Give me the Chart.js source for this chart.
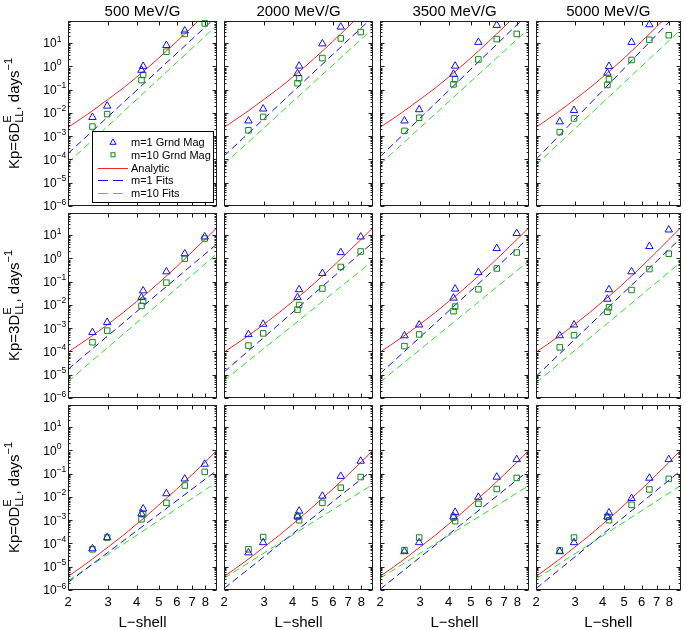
<!DOCTYPE html>
<html><head><meta charset="utf-8">
<script src="https://cdn.jsdelivr.net/npm/chart.js@4/dist/chart.umd.min.js"></script>
<style>
html,body{margin:0;padding:0;background:#fff;}
#wrap{position:relative;width:686px;height:630px;overflow:hidden;background:#fff;}
#wrap canvas{position:absolute;left:0;top:0;}
</style></head><body><div id="wrap"></div>
<script>
// ---------------- data ----------------
const L_MAG = [2.56, 2.97, 4.2, 4.27, 5.4, 6.5, 7.95];
const L_CURVE = [2, 2.5, 3, 3.5, 4, 4.5, 5, 6, 7, 8, 9];
const L_FIT = [2, 9];
const ENERGIES = ['500 MeV/G', '2000 MeV/G', '3500 MeV/G', '5000 MeV/G'];
const KP = ['6', '3', '0'];
const X_TICKS = [2, 3, 4, 5, 6, 7, 8];
const Y_DECADES = [-6, -5, -4, -3, -2, -1, 0, 1];
const LEGEND_LABELS = ['m=1 Grnd Mag', 'm=10 Grnd Mag', 'Analytic', 'm=1 Fits', 'm=10 Fits'];

// Kp = 6
const M1_MAG_KP6 = [
  [6.5e-3, 2.0e-2, 0.69, 1.02, 8.1, 34, null],
  [4.6e-3, 1.5e-2, 0.50, 1.05, 9.5, 50, null],
  [4.6e-3, 1.4e-2, 0.47, 1.05, 11, 59, null],
  [4.2e-3, 1.3e-2, 0.52, 1.02, 11, 63, null]
];
const M10_MAG_KP6 = [
  [2.6e-3, 8.9e-3, 0.26, 0.43, 4.3, 25, 71],
  [1.8e-3, 6.8e-3, 0.19, 0.31, 2.3, 16, 30],
  [1.7e-3, 6.2e-3, 0.17, 0.28, 2.0, 15, 25],
  [1.5e-3, 5.8e-3, 0.16, 0.28, 1.9, 14, 22]
];
const ANALYTIC_KP6 = [2.4e-3, 1.05e-2, 3.9e-2, 0.12, 0.35, 0.93, 2.3, 12, 50, 186, 600];
const M1_FIT_KP6 = [[1.8e-4, 145], [1.4e-4, 135], [1.3e-4, 195], [1.0e-4, 270]];
const M10_FIT_KP6 = [[7.2e-5, 59], [6.2e-5, 43], [6.2e-5, 43], [5.8e-5, 38]];

// Kp = 3
const M1_MAG_KP3 = [
  [6.6e-4, 1.8e-3, 2.1e-2, 4.1e-2, 0.27, 1.6, 8.5],
  [5.4e-4, 1.5e-3, 2.1e-2, 4.6e-2, 0.23, 1.8, 8.5],
  [4.8e-4, 1.4e-3, 2.0e-2, 4.9e-2, 0.25, 2.7, 12],
  [4.8e-4, 1.4e-3, 1.8e-2, 4.6e-2, 0.27, 3.3, 17]
];
const M10_MAG_KP3 = [
  [2.5e-4, 7.9e-4, 9.1e-3, 1.5e-2, 9.1e-2, 0.98, 7.2],
  [1.8e-4, 6.0e-4, 6.3e-3, 1.0e-2, 5.1e-2, 0.43, 2.0],
  [1.7e-4, 5.4e-4, 5.4e-3, 8.5e-3, 4.7e-2, 0.37, 1.8],
  [1.5e-4, 5.0e-4, 5.1e-3, 7.9e-3, 4.4e-2, 0.35, 1.6]
];
const ANALYTIC_KP3 = [9.3e-5, 4.1e-4, 1.5e-3, 4.8e-3, 1.4e-2, 3.6e-2, 8.9e-2, 0.45, 1.9, 6.8, 21];
const M1_FIT_KP3 = [[1.7e-5, 4.2], [1.3e-5, 4.9], [1.1e-5, 7.9], [8.5e-6, 7.4]];
const M10_FIT_KP3 = [[5.1e-6, 1.6], [5.6e-6, 0.79], [4.8e-6, 0.79], [4.5e-6, 0.68]];

// Kp = 0
const M1_MAG_KP0 = [
  [6.0e-5, 1.8e-4, 1.9e-3, 3.1e-3, 1.4e-2, 6.0e-2, 0.26],
  [4.0e-5, 1.1e-4, 1.5e-3, 2.5e-3, 1.1e-2, 7.8e-2, 0.35],
  [4.5e-5, 1.1e-4, 1.4e-3, 2.2e-3, 9.8e-3, 7.2e-2, 0.41],
  [4.5e-5, 1.1e-4, 1.4e-3, 2.1e-3, 8.7e-3, 6.5e-2, 0.41]
];
const M10_MAG_KP0 = [
  [5.6e-5, 1.8e-4, 1.1e-3, 1.8e-3, 5.6e-3, 3.1e-2, 0.12],
  [5.6e-5, 1.9e-4, 1.4e-3, 1.0e-3, 5.6e-3, 2.5e-2, 7.2e-2],
  [5.2e-5, 1.8e-4, 1.3e-3, 9.1e-4, 5.1e-3, 2.2e-2, 6.6e-2],
  [5.0e-5, 1.8e-4, 1.4e-3, 1.0e-3, 4.6e-3, 2.1e-2, 6.0e-2]
];
const ANALYTIC_KP0 = [3.8e-6, 1.8e-5, 7.1e-5, 2.3e-4, 6.8e-4, 1.8e-3, 4.5e-3, 2.2e-2, 9.1e-2, 0.32, 1.02];
const M1_FIT_KP0 = [[2.1e-6, 0.14], [1.15e-6, 0.15], [1.07e-6, 0.14], [1.15e-6, 0.135]];
const M10_FIT_KP0 = [[2.5e-6, 4.4e-2], [3.2e-6, 3.5e-2], [3.2e-6, 3.1e-2], [3.0e-6, 3.1e-2]];

const MAG1 = [M1_MAG_KP6, M1_MAG_KP3, M1_MAG_KP0];
const MAG10 = [M10_MAG_KP6, M10_MAG_KP3, M10_MAG_KP0];
const ANALYTIC = [ANALYTIC_KP6, ANALYTIC_KP3, ANALYTIC_KP0];
const FIT1 = [M1_FIT_KP6, M1_FIT_KP3, M1_FIT_KP0];
const FIT10 = [M10_FIT_KP6, M10_FIT_KP3, M10_FIT_KP0];

// ---------------- layout / style ----------------
const W = 686, H = 630;
const PANEL_LEFT = [68, 224, 380, 536];
const PANEL_TOP = [21, 213, 405];
const PANEL_W = 149, PANEL_H = 185;
const FONT = '"Liberation Sans", Arial, Helvetica, sans-serif';
const BLUE = '#1010f0', DKGREEN = '#148a14', RED = '#f02828', LTGREEN = '#33dd33', AXIS = '#1e1e1e';
const DASH = [7, 4];

function pts(xs, ys) {
  return xs.map((x, i) => ({x: x, y: ys[i]})).filter(p => p.y !== null && p.y !== undefined);
}
function segW(ctx, s) { ctx.font = s.size + 'px ' + FONT; return ctx.measureText(s.t).width; }
function partW(ctx, p) { return p.stack ? Math.max(...p.stack.map(s => segW(ctx, s))) : segW(ctx, p); }
function drawRich(ctx, parts, x0, y0, align) {
  const total = parts.reduce((a, p) => a + partW(ctx, p), 0);
  let x = align === 'center' ? x0 - total / 2 : x0;
  ctx.textAlign = 'left'; ctx.textBaseline = 'alphabetic';
  for (const p of parts) {
    const segs = p.stack || [p];
    for (const s of segs) { ctx.font = s.size + 'px ' + FONT; ctx.fillText(s.t, x, y0 + (s.dy || 0)); }
    x += partW(ctx, p);
  }
}
function line(ctx, x1, y1, x2, y2) { ctx.beginPath(); ctx.moveTo(x1, y1); ctx.lineTo(x2, y2); ctx.stroke(); }
function tri(ctx, x, y, r) {
  ctx.beginPath();
  ctx.moveTo(x, y - r);
  ctx.lineTo(x + r * Math.sin(2 * Math.PI / 3), y - r * Math.cos(2 * Math.PI / 3));
  ctx.lineTo(x + r * Math.sin(4 * Math.PI / 3), y - r * Math.cos(4 * Math.PI / 3));
  ctx.closePath(); ctx.stroke();
}

const deco = {
  id: 'deco',
  afterDraw(chart, args, opts) {
    const ctx = chart.ctx, ca = chart.chartArea, xs = chart.scales.x, ys = chart.scales.y;
    const row = opts.row, col = opts.col;
    ctx.save();
    ctx.strokeStyle = AXIS; ctx.lineWidth = 1; ctx.setLineDash([]);
    const L = Math.round(ca.left) + 0.5, R = Math.round(ca.right) - 0.5;
    const T = Math.round(ca.top) + 0.5, B = Math.round(ca.bottom) - 0.5;
    // x ticks (top and bottom, inward)
    for (const v of X_TICKS) {
      const px = Math.round(xs.getPixelForValue(v)) + 0.5;
      line(ctx, px, B, px, B - 4); line(ctx, px, T, px, T + 4);
    }
    // y ticks major + minor
    for (const e of Y_DECADES) {
      for (let k = 1; k <= 9; k++) {
        const v = k * Math.pow(10, e);
        if (v >= ys.max) break;
        const py = Math.round(ys.getPixelForValue(v)) + 0.5;
        const len = k === 1 ? 4 : 2;
        line(ctx, L, py, L + len, py); line(ctx, R, py, R - len, py);
      }
    }
    ctx.strokeRect(L, T, R - L, B - T);
    ctx.fillStyle = '#000';
    // y tick labels
    if (col === 0) {
      for (const e of Y_DECADES) {
        const py = ys.getPixelForValue(Math.pow(10, e));
        const ex = e < 0 ? '\u2212' + Math.abs(e) : String(e);
        drawRich(ctx, [{t: '10', size: 12}, {t: ex, size: 8.5, dy: -5.8}], ca.left - 24.7, py + 4.3, 'left');
      }
      // y axis title
      ctx.save();
      ctx.translate(18.5, (ca.top + ca.bottom) / 2);
      ctx.rotate(-Math.PI / 2);
      drawRich(ctx, [
        {t: 'Kp=' + KP[row] + 'D', size: 15},
        {stack: [{t: 'E', size: 11, dy: -8}, {t: 'LL', size: 11, dy: 4}]},
        {t: ', days', size: 15},
        {t: '\u22121', size: 11, dy: -7}
      ], 0, 0, 'center');
      ctx.restore();
    }
    // x tick labels + title
    if (row === 2) {
      ctx.font = '13px ' + FONT; ctx.textAlign = 'center'; ctx.textBaseline = 'alphabetic';
      for (const v of X_TICKS) ctx.fillText(String(v), xs.getPixelForValue(v), ca.bottom + 15.5);
      ctx.font = '15px ' + FONT;
      ctx.fillText('L\u2212shell', (ca.left + ca.right) / 2, ca.bottom + 37);
    }
    // column titles
    if (row === 0) {
      ctx.font = '15px ' + FONT; ctx.textAlign = 'center'; ctx.textBaseline = 'alphabetic';
      ctx.fillText(ENERGIES[col], (ca.left + ca.right) / 2, ca.top - 5);
    }
    // legend
    if (row === 0 && col === 0) {
      const bx = 92.5, by = 131.5, bw = 121, bh = 71;
      ctx.fillStyle = '#fff'; ctx.fillRect(bx, by, bw, bh);
      ctx.strokeStyle = '#000'; ctx.strokeRect(bx, by, bw, bh);
      const ds = chart.data.datasets;
      for (let i = 0; i < 5; i++) {
        const y = 142 + i * 12.75;
        const d = ds[i];
        ctx.lineWidth = 1;
        if (i === 0) { ctx.setLineDash([]); ctx.strokeStyle = d.pointBorderColor; tri(ctx, 113, y + 0.5, 3.6); }
        else if (i === 1) { ctx.setLineDash([]); ctx.strokeStyle = d.pointBorderColor; ctx.strokeRect(111, y - 2, 4, 4); }
        else {
          ctx.strokeStyle = d.borderColor; ctx.setLineDash(i === 2 ? [] : [10, 5]);
          line(ctx, 98, Math.round(y) + 0.5, 128, Math.round(y) + 0.5);
          ctx.setLineDash([]);
        }
        ctx.fillStyle = '#000'; ctx.font = '11px ' + FONT; ctx.textAlign = 'left'; ctx.textBaseline = 'alphabetic';
        ctx.fillText(d.label, 131, y + 4);
      }
    }
    ctx.restore();
  }
};

const wrap = document.getElementById('wrap');
function makePanel(row, col) {
  const cv = document.createElement('canvas');
  cv.width = W; cv.height = H; cv.style.width = W + 'px'; cv.style.height = H + 'px';
  wrap.appendChild(cv);
  new Chart(cv, {
    type: 'line',
    data: {
      datasets: [
        {label: LEGEND_LABELS[0], data: pts(L_MAG, MAG1[row][col]), showLine: false,
         pointStyle: 'triangle', pointRadius: 4.3, pointBorderWidth: 1,
         pointBorderColor: BLUE, pointBackgroundColor: 'rgba(0,0,0,0)', borderColor: BLUE, clip: false},
        {label: LEGEND_LABELS[1], data: pts(L_MAG, MAG10[row][col]), showLine: false,
         pointStyle: 'rect', pointRadius: 3.9, pointBorderWidth: 1,
         pointBorderColor: DKGREEN, pointBackgroundColor: 'rgba(0,0,0,0)', borderColor: DKGREEN, clip: false},
        {label: LEGEND_LABELS[2], data: pts(L_CURVE, ANALYTIC[row]), borderColor: RED, borderWidth: 1,
         pointRadius: 0, fill: false, cubicInterpolationMode: 'monotone'},
        {label: LEGEND_LABELS[3], data: pts(L_FIT, FIT1[row][col]), borderColor: BLUE, borderWidth: 1,
         borderDash: DASH, pointRadius: 0, fill: false},
        {label: LEGEND_LABELS[4], data: pts(L_FIT, FIT10[row][col]), borderColor: LTGREEN, borderWidth: 1,
         borderDash: DASH, pointRadius: 0, fill: false}
      ]
    },
    options: {
      responsive: false, animation: false, devicePixelRatio: 1, events: [],
      layout: {padding: {left: PANEL_LEFT[col], top: PANEL_TOP[row],
        right: W - PANEL_LEFT[col] - PANEL_W, bottom: H - PANEL_TOP[row] - PANEL_H}},
      scales: {
        x: {type: 'logarithmic', min: 2, max: 9, display: false},
        y: {type: 'logarithmic', min: 1e-6, max: 90, display: false}
      },
      plugins: {legend: {display: false}, tooltip: {enabled: false}, title: {display: false},
        deco: {row: row, col: col}}
    },
    plugins: [deco]
  });
}
for (let r = 0; r < 3; r++) for (let c = 0; c < 4; c++) makePanel(r, c);
</script></body></html>
